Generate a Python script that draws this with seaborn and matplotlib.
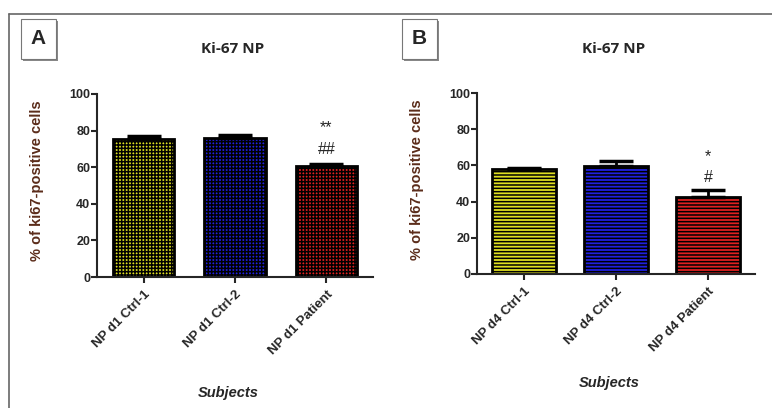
import numpy as np
import matplotlib
matplotlib.use("Agg")
import matplotlib.pyplot as plt
import seaborn as sns
from matplotlib.patches import Rectangle
from matplotlib.lines import Line2D

sns.set_style("white")
plt.rcParams['font.family'] = ['Liberation Sans', 'DejaVu Sans']
plt.rcParams['hatch.linewidth'] = 1.1
plt.rcParams['hatch.color'] = 'black'

# data
labels_a = ["NP d1 Ctrl-1", "NP d1 Ctrl-2", "NP d1 Patient"]
means_a = [75.2, 76.0, 60.8]
errs_a = [2.0, 1.4, 1.2]
marks_a = ["**", "##"]

labels_b = ["NP d4 Ctrl-1", "NP d4 Ctrl-2", "NP d4 Patient"]
means_b = [57.9, 59.7, 42.6]
errs_b = [0.9, 3.0, 4.0]
marks_b = ["*", "#"]

colors = ["#ffff00", "#0000ff", "#ff0000"]
ylab_color = "#5b2c1a"

fig = plt.figure(figsize=(7.72, 4.08), dpi=100)
W, H = 772, 408


def px_axes(l, t, r, b):
    return fig.add_axes([l / W, 1 - b / H, (r - l) / W, (b - t) / H])


def panel(ax, labels, means, errs, hatch, width, marks, mark_y):
    sns.barplot(x=labels, y=means, hue=labels, palette=colors, legend=False,
                width=width, edgecolor="black", linewidth=2, ax=ax, errorbar=None)
    for p in ax.patches:
        p.set_hatch(hatch)
    xs = np.arange(len(labels))
    ax.errorbar(xs, means, yerr=[np.zeros(len(errs)), errs], fmt="none",
                ecolor="black", elinewidth=2, capsize=12, capthick=2.5, zorder=1)
    ax.set_ylim(0, 100)
    ax.set_xlim(-0.51, 2.51)
    ax.set_yticks([0, 20, 40, 60, 80, 100])
    sns.despine(ax=ax)
    for s in ["left", "bottom"]:
        ax.spines[s].set_linewidth(1.5)
    ax.tick_params(axis="y", direction="out", length=4, width=1.5,
                   labelsize=9, pad=1, left=True)
    ax.tick_params(axis="x", direction="out", length=4, width=1.5,
                   pad=4, bottom=True)
    for t in ax.get_yticklabels():
        t.set_fontweight("bold")
    ax.set_xticks(xs)
    ax.set_xticklabels(labels, rotation=45, ha="right", rotation_mode="anchor",
                       fontweight="bold", fontsize=9.5)
    ax.set_xlabel("")
    ax.set_ylabel("")
    for m, y in zip(marks, mark_y):
        ax.text(2, y, m, ha="center", va="center", fontsize=11.5, color="#222222")


ax_a = px_axes(97, 94, 373, 277)
panel(ax_a, labels_a, means_a, errs_a, "+++++", 0.67, marks_a, [81.5, 69.5])
ax_b = px_axes(477, 93, 755, 274)
panel(ax_b, labels_b, means_b, errs_b, "-----", 0.69, marks_b, [65.0, 53.5])

# titles, axis titles
for x, xl, yl, letter, bx in [(233, 228, 393, "A", 21), (614, 609, 383, "B", 402)]:
    fig.text(x / W, 1 - 49 / H, "Ki-67 NP", ha="center", va="center",
             fontsize=11, fontweight="bold", family=["Open Sans", "DejaVu Sans"])
    fig.text(xl / W, 1 - yl / H, "Subjects", ha="center", va="center",
             fontsize=10.5, fontweight="bold", style="italic")
    # letter box with a small shadow
    fig.patches.append(Rectangle(((bx + 2) / W, 1 - 61 / H), 35 / W, 40 / H,
                                 transform=fig.transFigure, facecolor="#888888",
                                 edgecolor="none", zorder=1))
    fig.patches.append(Rectangle((bx / W, 1 - 59 / H), 35 / W, 40 / H,
                                 transform=fig.transFigure, facecolor="white",
                                 edgecolor="#777777", linewidth=0.8, zorder=2))
    fig.text((bx + 17.5) / W, 1 - 39 / H, letter, ha="center", va="center",
             fontsize=15, fontweight="bold", zorder=3)

fig.text(37 / W, 1 - 181 / H, "% of ki67-positive cells", rotation=90,
         ha="center", va="center", fontsize=10.5, fontweight="bold", color=ylab_color)
fig.text(417 / W, 1 - 180 / H, "% of ki67-positive cells", rotation=90,
         ha="center", va="center", fontsize=10.5, fontweight="bold", color=ylab_color)

# outer frame
fig.lines.append(Line2D([9 / W, 1], [1 - 14 / H, 1 - 14 / H], transform=fig.transFigure,
                        color="#666666", linewidth=1.2))
fig.lines.append(Line2D([9 / W, 9 / W], [0, 1 - 14 / H], transform=fig.transFigure,
                        color="#666666", linewidth=1.2))

fig.savefig("out.png", dpi=100)
